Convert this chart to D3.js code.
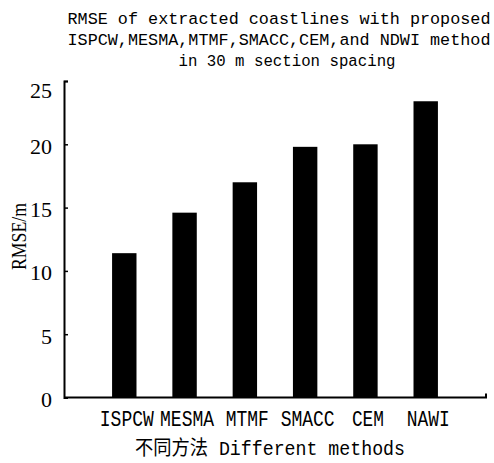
<!DOCTYPE html>
<html>
<head>
<meta charset="utf-8">
<script src="https://cdn.jsdelivr.net/npm/d3@7"></script>
<style>
  html, body { margin: 0; padding: 0; background: #fff; }
  svg { display: block; }
</style>
</head>
<body>
<script>
const categories = ["ISPCW", "MESMA", "MTMF", "SMACC", "CEM", "NAWI"];
const rmseValues = [11.4, 14.6, 17.0, 19.8, 20.0, 23.4];
const yTicks = [0, 5, 10, 15, 20, 25];
const titleLines = [
  "RMSE of extracted coastlines with proposed",
  "ISPCW,MESMA,MTMF,SMACC,CEM,and NDWI method",
  "in 30 m section spacing"
];
const xTitle = "不同方法 Different methods";
const yTitle = "RMSE/m";

const W = 494, H = 463;
const margin = { left: 64, right: 8, top: 81, bottom: 65.5 };

const svg = d3.select("body").append("svg")
  .attr("width", W).attr("height", H);

const x = d3.scalePoint()
  .domain(categories)
  .range([margin.left, W - margin.right])
  .padding(1);

const y = d3.scaleLinear()
  .domain([0, 25])
  .range([H - margin.bottom, margin.top]);

const barW = x.step() * 0.405;

// Bars
svg.append("g").selectAll("rect")
  .data(categories)
  .join("rect")
  .attr("x", d => x(d) - barW / 2)
  .attr("width", barW)
  .attr("y", (d, i) => y(rmseValues[i]))
  .attr("height", (d, i) => y(0) - y(rmseValues[i]))
  .attr("fill", "#000");

// Y axis (ticks inward)
const yAxis = svg.append("g")
  .attr("transform", `translate(${margin.left},0)`)
  .call(d3.axisLeft(y).tickValues(yTicks).tickSize(-4).tickSizeOuter(-4).tickPadding(12));
yAxis.select(".domain").attr("stroke-width", 2);
yAxis.selectAll(".tick line").attr("stroke-width", 1.5);
yAxis.selectAll(".tick text")
  .attr("font-family", "'Liberation Serif', serif")
  .attr("font-size", 22)
  .attr("fill", "#000")
  .attr("dy", d => d === 25 ? "0.73em" : "0.4em");

// X axis line with upward tick at right end
svg.append("path")
  .attr("d", d3.line()([[x.range()[0], y(0)], [x.range()[1], y(0)], [x.range()[1], y(0) - 4]]))
  .attr("fill", "none").attr("stroke", "#000").attr("stroke-width", 2);

// X tick labels
const xAxis = svg.append("g")
  .attr("transform", `translate(0,${y(0)})`)
  .call(d3.axisBottom(x).tickSize(0).tickSizeOuter(0));
xAxis.select(".domain").remove();
xAxis.selectAll(".tick text")
  .attr("font-family", "'Liberation Mono', monospace")
  .attr("font-size", 22)
  .attr("fill", "#000")
  .attr("y", 28.5).attr("dy", 0).attr("dx", 2)
  .attr("textLength", d => d.length * 11 - 1)
  .attr("lengthAdjust", "spacingAndGlyphs");

// Title
const titlePos = [
  { x: 67.5, y: 23.5 },
  { x: 67.5, y: 45 },
  { x: 178.5, y: 65.5, len: 217 }
];
const titleText = svg.append("g").selectAll("text")
  .data(titleLines)
  .join("text")
  .attr("x", (d, i) => titlePos[i].x)
  .attr("y", (d, i) => titlePos[i].y)
  .attr("font-family", "'Liberation Mono', monospace")
  .attr("font-size", 16.8)
  .attr("fill", "#000")
  .text(d => d);
titleText.filter((d, i) => titlePos[i].len)
  .attr("textLength", (d, i) => 217)
  .attr("lengthAdjust", "spacingAndGlyphs");

// X axis title
svg.append("text")
  .attr("x", 135).attr("y", 455)
  .attr("textLength", 270)
  .attr("lengthAdjust", "spacingAndGlyphs")
  .attr("font-family", "'Liberation Mono', 'Noto Sans CJK SC', monospace")
  .attr("font-size", 20)
  .attr("fill", "#000")
  .text(xTitle);

// Y axis title
svg.append("text")
  .attr("transform", "translate(26,236.5) rotate(-90)")
  .attr("text-anchor", "middle")
  .attr("textLength", 67)
  .attr("lengthAdjust", "spacingAndGlyphs")
  .attr("font-family", "'Liberation Serif', serif")
  .attr("font-size", 22)
  .attr("fill", "#000")
  .text(yTitle);
</script>
</body>
</html>
